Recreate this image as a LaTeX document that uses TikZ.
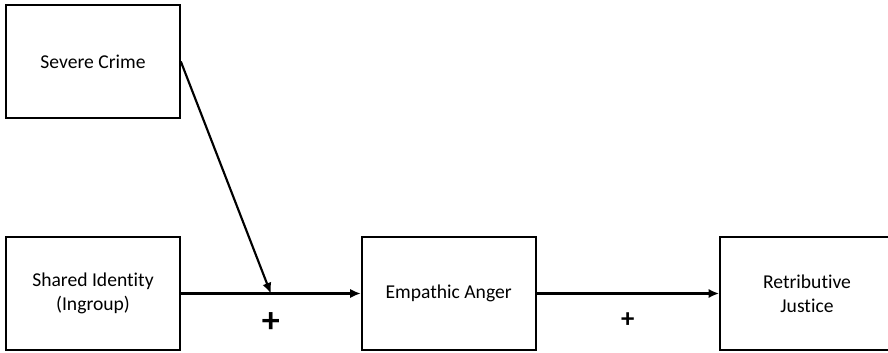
\documentclass[tikz,border=0pt]{standalone}
\usepackage{fontspec}
\setmainfont{Carlito}[Ligatures=NoCommon]
\usetikzlibrary{positioning}
\usetikzlibrary{arrows.meta}

\begin{document}
\begin{tikzpicture}[x=0.75pt, y=0.75pt, node distance = 135pt,
        box/.style = {rectangle, draw, line width=1.25pt, minimum width=130.5pt, minimum height=84.75pt, align=center, font=\fontsize{14.7}{18}\selectfont},
        link/.style = {line width=1.6pt, -{Latex[length=8pt, width=7pt]}}]
        \useasboundingbox (0, 0) rectangle (888, 353);
        \node (ident) [box] at (93, 59.5) {Shared Identity\\(Ingroup)};
        \node (anger) [box, right = 135pt of ident] {Empathic Anger};
        \node (justice) [box, right = 137pt of anger] {Retributive\\Justice};
        \node (crime) [box, above = 88pt of ident] {Severe Crime};
        
        \draw[link] (ident) -- node[below=10pt, font=\fontsize{27}{27}\bfseries] {+} coordinate[midway] (join) (anger);
        \draw[link] (anger) -- node[below=10pt, font=\fontsize{20}{20}\bfseries] {+} (justice);
        
        \draw[link] (crime.east) -- (join);
    \end{tikzpicture}
\end{document}
